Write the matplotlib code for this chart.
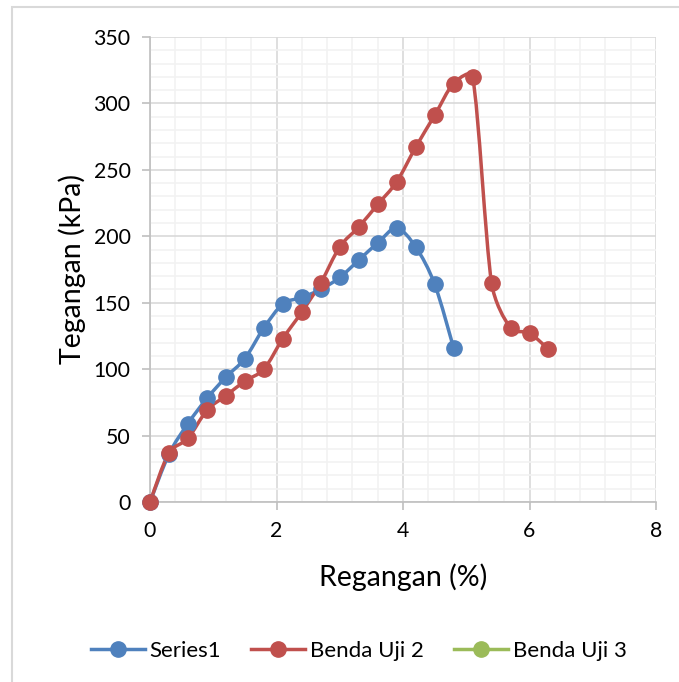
import matplotlib
matplotlib.use("Agg")
import matplotlib.pyplot as plt
from matplotlib.path import Path
from matplotlib.patches import PathPatch, Rectangle
from matplotlib.lines import Line2D
from matplotlib.ticker import MultipleLocator
import numpy as np

plt.rcParams['font.family'] = ['Lato', 'DejaVu Sans']

# Strain (%) and stress (kPa) readings for each specimen
strain_1 = [0, 0.3, 0.6, 0.9, 1.2, 1.5, 1.8, 2.1, 2.4, 2.7, 3.0, 3.3, 3.6, 3.9, 4.2, 4.5, 4.8]
stress_1 = [0, 36, 59, 78, 94, 108, 131, 149, 154, 160, 169, 182, 195, 206, 192, 164, 116]

strain_2 = [0, 0.3, 0.6, 0.9, 1.2, 1.5, 1.8, 2.1, 2.4, 2.7, 3.0, 3.3, 3.6, 3.9, 4.2, 4.5, 4.8,
            5.1, 5.4, 5.7, 6.0, 6.3]
stress_2 = [0, 37, 48, 69, 80, 91, 100, 123, 143, 165, 192, 207, 224, 241, 267, 291, 315,
            320, 165, 131, 127, 115]

strain_3 = []
stress_3 = []

series_names = ["Series1", "Benda Uji 2", "Benda Uji 3"]
series_colors = ["#4F81BD", "#C0504D", "#9BBB59"]

x_ticks = [0, 2, 4, 6, 8]
y_ticks = [0, 50, 100, 150, 200, 250, 300, 350]


def smooth_path(ax, xs, ys):
    """Bezier path through the points with tangents clamped to the segment lengths."""
    pts = ax.transData.transform(np.column_stack([xs, ys]).astype(float))
    n = len(pts)
    tang = []
    for i in range(n):
        p0 = pts[i - 1] if i > 0 else pts[i]
        p2 = pts[i + 1] if i < n - 1 else pts[i]
        tang.append((p2 - p0) / 6.0)
    verts = [pts[0]]
    codes = [Path.MOVETO]
    for i in range(n - 1):
        p1, p2 = pts[i], pts[i + 1]
        seg = np.hypot(*(p2 - p1))
        t1, t2 = tang[i], tang[i + 1]
        lim = 0.4 * seg
        n1, n2 = np.hypot(*t1), np.hypot(*t2)
        if n1 > lim:
            t1 = t1 * lim / n1
        if n2 > lim:
            t2 = t2 * lim / n2
        verts += [p1 + t1, p2 - t2, p2]
        codes += [Path.CURVE4] * 3
    verts = ax.transData.inverted().transform(np.array(verts))
    return Path(verts, codes)


fig = plt.figure(figsize=(6.79, 6.82), dpi=100)
ax = fig.add_axes([150 / 679, 1 - 502 / 682, (656 - 150) / 679, (502 - 37) / 682])
ax.set_xlim(0, 8)
ax.set_ylim(0, 350)

# outer chart border
fig.patches.append(Rectangle((12 / 679, -0.05), 1.2, 1 - 7 / 682 + 0.05,
                             transform=fig.transFigure, fill=False,
                             edgecolor="#D9D9D9", linewidth=1.5, zorder=0))

lw = 2.5
ms = 11
for xs, ys, color in [(strain_1, stress_1, series_colors[0]),
                      (strain_2, stress_2, series_colors[1]),
                      (strain_3, stress_3, series_colors[2])]:
    if len(xs) > 1:
        ax.add_patch(PathPatch(smooth_path(ax, xs, ys), facecolor="none", edgecolor=color,
                               linewidth=lw, capstyle="round", joinstyle="round", zorder=3))
    ax.plot(xs, ys, linestyle="none", marker="o", markersize=ms, color=color,
            markeredgecolor=color, zorder=4, clip_on=False)

ax.set_xticks(x_ticks)
ax.set_yticks(y_ticks)
ax.xaxis.set_minor_locator(MultipleLocator(0.4))
ax.yaxis.set_minor_locator(MultipleLocator(10))

ax.grid(which="major", color="#D9D9D9", linewidth=1.2, zorder=0)
ax.grid(which="minor", color="#F2F2F2", linewidth=1.2, zorder=0)
ax.set_axisbelow(True)

for side in ["top", "right"]:
    ax.spines[side].set_visible(False)
for side in ["left", "bottom"]:
    ax.spines[side].set_color("#BFBFBF")
    ax.spines[side].set_linewidth(1.2)

ax.tick_params(which="major", direction="out", length=6, width=1.2, color="#BFBFBF",
               labelsize=15.3, labelcolor="black")
ax.tick_params(axis="x", which="major", pad=8)
ax.tick_params(axis="y", which="major", pad=8)
ax.tick_params(which="minor", length=0)

ax.set_xlabel("Regangan (%)", fontsize=20.5, labelpad=16)
ax.set_ylabel("Tegangan (kPa)", fontsize=20.5, labelpad=5)

handles = [Line2D([0], [0], color=c, linewidth=lw, marker="o", markersize=ms)
           for c in series_colors]
fig.legend(handles, series_names, loc="center", bbox_to_anchor=(359 / 679, 1 - 651 / 682),
           ncol=3, frameon=False, fontsize=16, handlelength=2.43, handletextpad=0.23,
           columnspacing=1.35)

fig.savefig("out.png", dpi=100)
